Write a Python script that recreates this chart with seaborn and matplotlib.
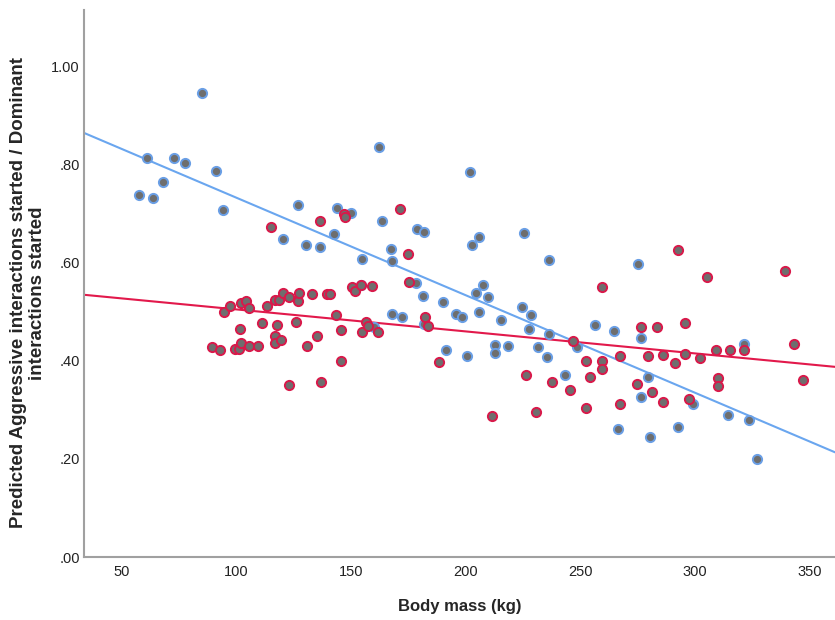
import seaborn as sns
import matplotlib.pyplot as plt
import pandas as pd

sns.set_style('white')
plt.rcParams['font.family'] = ['Liberation Sans', 'DejaVu Sans']

# group drawn with blue outline
blue_mass = [57.7, 61.2, 63.7, 68.2, 72.7, 77.6, 85.2, 91.0, 94.1, 120.5,
             127.0, 130.4, 136.5, 142.4, 143.9, 149.8, 154.8, 154.2, 160.0, 162.3,
             163.3, 167.4, 167.7, 167.8, 172.3, 178.2, 178.7, 181.2, 181.8, 181.8,
             190.1, 191.2, 195.6, 198.2, 200.7, 201.8, 202.6, 204.6, 205.8, 205.8,
             207.6, 209.7, 212.6, 212.6, 215.6, 218.5, 224.5, 225.5, 227.6, 228.6,
             231.5, 235.5, 236.4, 236.4, 243.5, 248.6, 256.4, 264.5, 266.5, 275.3,
             276.4, 276.4, 279.4, 280.3, 292.4, 299.3, 314.3, 321.4, 323.3, 327.2]
blue_pred = [0.739, 0.813, 0.733, 0.764, 0.813, 0.804, 0.946, 0.788, 0.708, 0.649,
             0.718, 0.636, 0.632, 0.659, 0.712, 0.702, 0.608, 0.554, 0.469, 0.837,
             0.685, 0.629, 0.604, 0.495, 0.490, 0.558, 0.669, 0.533, 0.663, 0.476,
             0.520, 0.422, 0.496, 0.490, 0.411, 0.786, 0.637, 0.539, 0.652, 0.500,
             0.554, 0.530, 0.433, 0.416, 0.484, 0.431, 0.511, 0.661, 0.466, 0.494,
             0.429, 0.408, 0.606, 0.455, 0.371, 0.429, 0.473, 0.461, 0.262, 0.598,
             0.446, 0.327, 0.367, 0.245, 0.266, 0.312, 0.290, 0.434, 0.279, 0.199]

# group drawn with red outline
red_mass = [89.3, 93.0, 94.5, 97.1, 99.4, 101.0, 101.6, 102.0, 102.0, 104.1,
            105.5, 105.7, 109.6, 111.0, 113.5, 115.2, 117.0, 118.6, 117.9, 116.8,
            116.8, 119.5, 120.5, 123.0, 123.0, 125.9, 126.9, 127.3, 130.9, 132.8,
            135.0, 136.5, 136.9, 139.4, 140.8, 143.4, 145.8, 145.8, 146.9, 147.5,
            150.3, 151.7, 154.2, 154.8, 156.4, 157.3, 159.3, 161.6, 171.3, 174.8,
            175.4, 182.2, 183.7, 188.3, 211.5, 226.5, 230.6, 237.6, 245.6, 246.6,
            252.4, 252.4, 254.2, 259.5, 259.5, 259.5, 267.3, 267.3, 274.5, 276.4,
            279.4, 281.3, 283.3, 286.2, 286.2, 291.3, 292.4, 295.4, 295.4, 297.3,
            302.2, 305.2, 309.3, 310.2, 310.2, 315.1, 321.2, 339.1, 343.0, 347.0]
red_pred = [0.429, 0.422, 0.500, 0.512, 0.425, 0.425, 0.465, 0.518, 0.436, 0.522,
            0.431, 0.507, 0.431, 0.478, 0.512, 0.674, 0.525, 0.525, 0.473, 0.450,
            0.436, 0.443, 0.538, 0.531, 0.350, 0.479, 0.523, 0.538, 0.431, 0.537,
            0.451, 0.686, 0.357, 0.537, 0.537, 0.493, 0.464, 0.400, 0.699, 0.693,
            0.550, 0.543, 0.554, 0.459, 0.479, 0.472, 0.553, 0.459, 0.710, 0.618,
            0.562, 0.490, 0.471, 0.398, 0.287, 0.371, 0.296, 0.358, 0.341, 0.440,
            0.399, 0.304, 0.367, 0.551, 0.400, 0.384, 0.410, 0.312, 0.353, 0.469,
            0.410, 0.336, 0.469, 0.412, 0.316, 0.396, 0.626, 0.477, 0.415, 0.322,
            0.405, 0.571, 0.423, 0.366, 0.348, 0.423, 0.423, 0.583, 0.434, 0.361]

# fit lines (intercept, slope)
blue_fit = [0.932, -0.00199]
red_fit = [0.550, -0.000449]

x_ticks = [50, 100, 150, 200, 250, 300, 350]
y_ticks = [0.0, 0.2, 0.4, 0.6, 0.8, 1.0]
y_tick_labels = ['.00', '.20', '.40', '.60', '.80', '1.00']

blue_df = pd.DataFrame({'mass': blue_mass, 'pred': blue_pred})
red_df = pd.DataFrame({'mass': red_mass, 'pred': red_pred})

fig = plt.figure(figsize=(8.35, 6.2), dpi=100)
ax = fig.add_axes([0.1006, 0.1016, 0.8994, 0.8824])

ax.axline((0, blue_fit[0]), slope=blue_fit[1], color='#6aa6ef', lw=1.5, zorder=1)
ax.axline((0, red_fit[0]), slope=red_fit[1], color='#e2194b', lw=1.5, zorder=1)

sns.scatterplot(data=blue_df, x='mass', y='pred', ax=ax, color='#6e6e6e',
                edgecolor='#6a9fe6', linewidth=1.4, s=44, zorder=2)
sns.scatterplot(data=red_df, x='mass', y='pred', ax=ax, color='#6e6e6e',
                edgecolor='#d9194a', linewidth=1.4, s=44, zorder=3)

ax.set_xlim(33.6, 361)
ax.set_ylim(0, 1.116)
ax.set_xticks(x_ticks)
ax.set_xticklabels([str(t) for t in x_ticks])
ax.set_yticks(y_ticks)
ax.set_yticklabels(y_tick_labels)
tick_font = ['Liberation Sans Narrow', 'Liberation Sans', 'DejaVu Sans']
for lab in ax.get_xticklabels() + ax.get_yticklabels():
    lab.set_family(tick_font)
ax.tick_params(length=0, labelsize=10.5, colors='#222222')
ax.tick_params(axis='x', pad=6)
ax.tick_params(axis='y', pad=3)

for s in ['top', 'right']:
    ax.spines[s].set_visible(False)
for s in ['left', 'bottom']:
    ax.spines[s].set_color('#a0a0a0')
    ax.spines[s].set_linewidth(1.5)

ax.set_xlabel('Body mass (kg)', fontsize=12, fontweight='bold', labelpad=14)
ax.set_ylabel('')
fig.text(28 / 835, 1 - 293 / 620,
         'Predicted Aggressive interactions started / Dominant\ninteractions started',
         rotation=90, ha='center', va='center', fontsize=13.5, fontweight='bold',
         linespacing=1.08, multialignment='center')

fig.savefig('out.png', dpi=100)
